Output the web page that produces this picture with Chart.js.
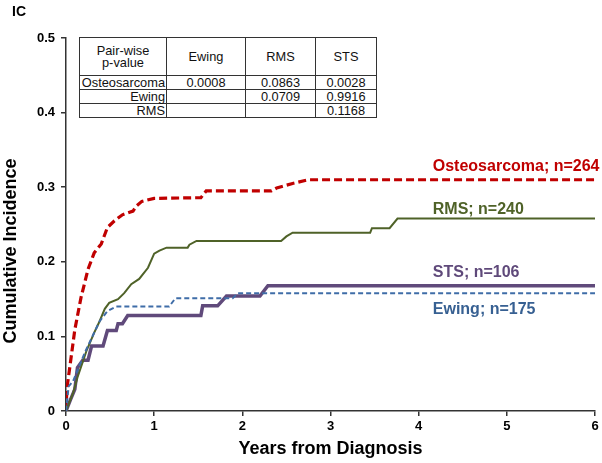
<!DOCTYPE html>
<html>
<head>
<meta charset="utf-8">
<script src="https://cdn.jsdelivr.net/npm/chart.js@4"></script>
<style>
  body { margin: 0; background: #fff; }
  #wrap { position: relative; width: 602px; height: 463px; }
  #pv { position: absolute; left: 79px; top: 37px; border-collapse: collapse;
        font: 12.8px "Liberation Sans", Arial, sans-serif; color: #111; background: #fff; }
  #pv td { border: 1px solid #333; padding: 0 1px; text-align: center; line-height: 12px; }
  #pv td.rl { text-align: right; }
</style>
</head>
<body>
<div id="wrap">
  <canvas id="ci" width="602" height="463"></canvas>
  <table id="pv">
    <tr style="height:38px"><td style="width:84px">Pair-wise<br>p-value</td><td style="width:76px">Ewing</td><td style="width:67px">RMS</td><td style="width:58px">STS</td></tr>
    <tr style="height:14px"><td class="rl">Osteosarcoma</td><td>0.0008</td><td>0.0863</td><td>0.0028</td></tr>
    <tr style="height:14px"><td class="rl">Ewing</td><td></td><td>0.0709</td><td>0.9916</td></tr>
    <tr style="height:14px"><td class="rl">RMS</td><td></td><td></td><td>0.1168</td></tr>
  </table>
</div>
<script>
// years from diagnosis / cumulative incidence
const osteoT = [0, 0.01, 0.04, 0.1, 0.17, 0.25, 0.32, 0.4, 0.47, 0.55, 0.64, 0.76, 0.8, 0.86, 1.0, 1.53, 1.59, 2.33, 2.39, 2.57, 2.75, 6];
const osteoV = [0, 0.03, 0.056, 0.109, 0.152, 0.19, 0.212, 0.224, 0.246, 0.255, 0.263, 0.268, 0.275, 0.281, 0.285, 0.286, 0.295, 0.295, 0.299, 0.305, 0.31, 0.31];

const rmsT = [0, 0.08, 0.13, 0.23, 0.32, 0.38, 0.44, 0.49, 0.59, 0.66, 0.74, 0.83, 0.93, 1.0, 1.06, 1.14, 1.38, 1.4, 1.48, 2.44, 2.5, 2.57, 3.45, 3.47, 3.67, 3.76, 6];
const rmsV = [0, 0.024, 0.045, 0.08, 0.105, 0.12, 0.137, 0.145, 0.15, 0.158, 0.17, 0.177, 0.192, 0.211, 0.215, 0.219, 0.219, 0.223, 0.228, 0.228, 0.234, 0.239, 0.239, 0.245, 0.245, 0.258, 0.258];

const stsT = [0, 0.05, 0.1, 0.13, 0.19, 0.25, 0.29, 0.42, 0.47, 0.57, 0.59, 0.64, 0.7, 1.53, 1.55, 1.72, 1.82, 2.2, 2.29, 6];
const stsV = [0, 0.015, 0.029, 0.058, 0.068, 0.068, 0.087, 0.087, 0.108, 0.108, 0.117, 0.117, 0.128, 0.128, 0.141, 0.141, 0.154, 0.154, 0.168, 0.168];

const ewingT = [0, 0.03, 0.08, 0.15, 0.22, 0.3, 0.38, 0.47, 0.57, 1.17, 1.24, 1.89, 1.95, 6];
const ewingV = [0, 0.033, 0.04, 0.06, 0.08, 0.1, 0.12, 0.134, 0.14, 0.14, 0.151, 0.151, 0.158, 0.158];

const xTicks = [0, 1, 2, 3, 4, 5, 6];
const yTicks = [0, 0.1, 0.2, 0.3, 0.4, 0.5];

const seriesLabels = ['Osteosarcoma; n=264', 'RMS; n=240', 'STS; n=106', 'Ewing; n=175'];

const FONT = '"Liberation Sans", Arial, sans-serif';
const pts = (t, v) => t.map((x, i) => ({ x: x, y: v[i] }));

// text pieces drawn straight onto the canvas
const textPlugin = {
  id: 'texts',
  afterDraw(chart) {
    const { ctx, scales: { x, y }, chartArea: a } = chart;
    ctx.save();
    ctx.textBaseline = 'middle';
    // curve labels
    ctx.font = 'bold 16px ' + FONT;
    ctx.textAlign = 'left';
    const lx = x.getPixelForValue(4.16);
    const spots = [[0.328, '#C00000'], [0.27, '#4F6228'], [0.186, '#5F497A'], [0.136, '#376092']];
    spots.forEach(([v, c], i) => {
      ctx.fillStyle = c;
      ctx.fillText(seriesLabels[i], lx, y.getPixelForValue(v));
    });
    ctx.fillStyle = '#000';
    // panel tag
    ctx.font = 'bold 14px ' + FONT;
    ctx.fillText('IC', 12, 12);
    // axis titles
    ctx.font = 'bold 18px ' + FONT;
    ctx.textAlign = 'center';
    ctx.fillText('Years from Diagnosis', (a.left + a.right) / 2, 449);
    ctx.translate(11, 251);
    ctx.rotate(-Math.PI / 2);
    ctx.fillText('Cumulative Incidence', 0, 0);
    ctx.restore();
  }
};

new Chart(document.getElementById('ci'), {
  type: 'line',
  data: {
    datasets: [
      { label: 'Ewing', data: pts(ewingT, ewingV), borderColor: '#3F6DA8', borderWidth: 2, borderDash: [5, 3] },
      { label: 'RMS', data: pts(rmsT, rmsV), borderColor: '#4F6228', borderWidth: 2 },
      { label: 'STS', data: pts(stsT, stsV), borderColor: '#604A7B', borderWidth: 3.5 },
      { label: 'Osteosarcoma', data: pts(osteoT, osteoV), borderColor: '#C00000', borderWidth: 3.2, borderDash: [8, 4] }
    ]
  },
  options: {
    responsive: false,
    animation: false,
    layout: { padding: { left: 0, top: 38, right: 7, bottom: 0 } },
    elements: { point: { radius: 0 }, line: { tension: 0, fill: false, borderCapStyle: 'butt' } },
    plugins: { legend: { display: false }, tooltip: { enabled: false } },
    scales: {
      x: {
        type: 'linear', min: 0, max: 6,
        afterFit: s => { s.height = 52; },
        afterBuildTicks: s => { s.ticks = xTicks.map(v => ({ value: v })); },
        ticks: { color: '#000', font: { family: FONT, size: 13, weight: 'bold' }, padding: 3 },
        grid: { drawOnChartArea: false, drawTicks: true, tickLength: 5, color: '#333', lineWidth: 1.5 },
        border: { color: '#333', width: 1.5 }
      },
      y: {
        min: 0, max: 0.5,
        afterFit: s => { s.width = 66; },
        afterBuildTicks: s => { s.ticks = yTicks.map(v => ({ value: v })); },
        ticks: {
          color: '#000', font: { family: FONT, size: 13, weight: 'bold' }, padding: 6,
          callback: v => v === 0 ? '0' : v.toFixed(1)
        },
        grid: { drawOnChartArea: false, drawTicks: true, tickLength: 5, color: '#333', lineWidth: 1.5 },
        border: { color: '#333', width: 1.5 }
      }
    }
  },
  plugins: [textPlugin]
});
</script>
</body>
</html>
